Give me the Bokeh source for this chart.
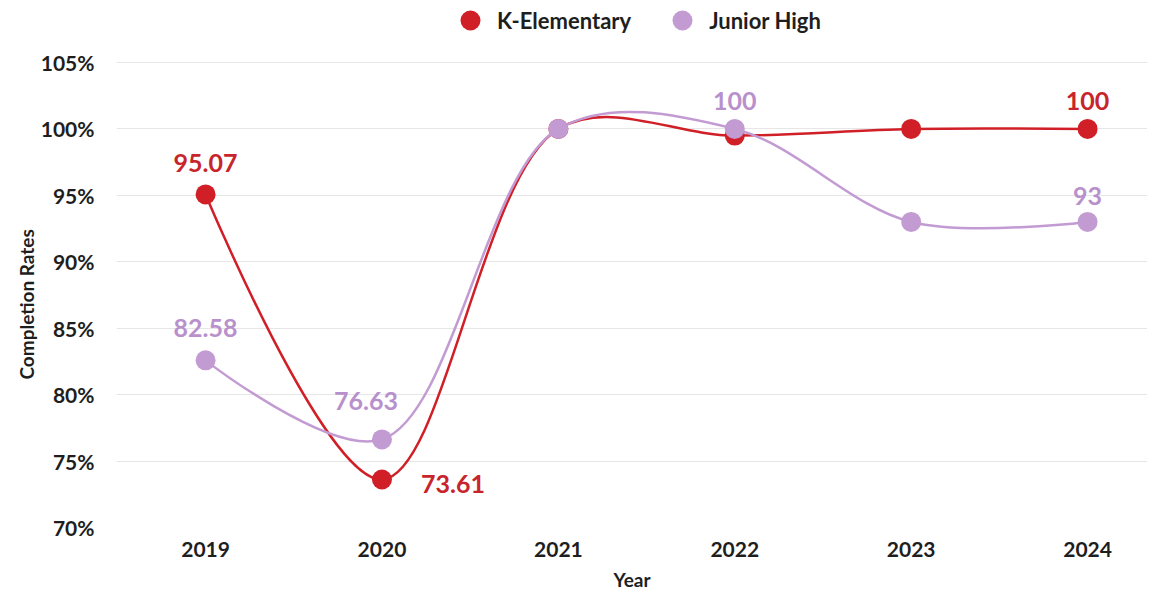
import math
from bokeh.plotting import figure
from bokeh.models import Range1d, FixedTicker, PrintfTickFormatter, Legend, LegendItem, Title
from bokeh.core.properties import value
from bokeh.embed import file_html
from bokeh.resources import INLINE

# ---------------- data ----------------
years = [2019, 2020, 2021, 2022, 2023, 2024]
k_elementary = [95.07, 73.61, 100, 99.5, 100, 100]
junior_high = [82.58, 76.63, 100, 100, 93, 93]
series_names = ["K-Elementary", "Junior High"]
y_ticks = [70, 75, 80, 85, 90, 95, 100, 105]
k_labeled_years = [2019, 2020, 2024]
j_labeled_years = [2019, 2020, 2022, 2024]

# ---------------- style ----------------
RED = "#D11F27"
RED_TXT = "#C8242B"
PURPLE = "#C39BD3"
PURPLE_TXT = "#B891CC"
GRID = "#E6E6E6"
TXT = "#1E1E1E"
FONT = "Lato"

W, H = 1147, 593
BL, BR, BT, BB = 116, 0, 0, 66
FW, FH = W - BL - BR, H - BT - BB
PX_PER_YEAR = 176.4
PX_PER_PCT = 465 / 35.0
X0 = 2018.495
X1 = X0 + FW / PX_PER_YEAR
Y0 = 70
Y1 = Y0 + FH / PX_PER_PCT   # frame reaches to the top so the legend row is inside it

p = figure(width=W, height=H, output_backend="svg", toolbar_location=None,
           x_range=Range1d(X0, X1), y_range=Range1d(Y0, Y1),
           min_border_left=BL, min_border_right=BR, min_border_top=BT, min_border_bottom=BB)
p.outline_line_color = None
p.background_fill_color = "white"
p.border_fill_color = "white"
p.xgrid.grid_line_color = None
p.ygrid.grid_line_color = GRID
p.ygrid.grid_line_width = 1

p.xaxis.ticker = FixedTicker(ticks=years)
p.yaxis.ticker = FixedTicker(ticks=y_ticks)
p.yaxis.formatter = PrintfTickFormatter(format="%d%%")
for ax in (p.xaxis[0], p.yaxis[0]):
    ax.axis_line_color = None
    ax.major_tick_line_color = None
    ax.minor_tick_line_color = None
    ax.major_label_text_font = FONT
    ax.major_label_text_font_style = "bold"
    ax.major_label_text_font_size = "21px"
    ax.major_label_text_color = TXT
    ax.axis_label_text_font = FONT
    ax.axis_label_text_font_style = "bold"
    ax.axis_label_text_font_size = "19px"
    ax.axis_label_text_color = TXT
p.xaxis.axis_label = "Year"
p.xaxis.major_label_standoff = 8
p.xaxis.axis_label_standoff = 8
p.yaxis.major_label_standoff = 16

ytitle = Title(text="Completion Rates", align="left", offset=148, standoff=0,
               text_font=FONT, text_font_style="bold", text_font_size="19px", text_color=TXT)
p.add_layout(ytitle, "left")


def catmull_rom(xs, ys, alpha=0.5):
    """Centripetal Catmull-Rom (as d3.curveCatmullRom) -> cubic bezier segments, in data units."""
    sx, sy = PX_PER_YEAR, PX_PER_PCT
    P = [(x * sx, y * sy) for x, y in zip(xs, ys)]
    n = len(P)
    seg = {k: [] for k in ("x0", "y0", "x1", "y1", "cx0", "cy0", "cx1", "cy1")}

    def dist(a, b):
        return math.hypot(a[0] - b[0], a[1] - b[1])

    for i in range(n - 1):
        p0 = P[i - 1] if i > 0 else P[i]
        p1, p2 = P[i], P[i + 1]
        p3 = P[i + 2] if i + 2 < n else P[i + 1]
        l01, l12, l23 = dist(p0, p1), dist(p1, p2), dist(p2, p3)
        l01a, l12a, l23a = l01 ** alpha, l12 ** alpha, l23 ** alpha
        l01_2a, l12_2a, l23_2a = l01 ** (2 * alpha), l12 ** (2 * alpha), l23 ** (2 * alpha)
        c1, c2 = p1, p2
        if l01a > 1e-12:
            a = 2 * l01_2a + 3 * l01a * l12a + l12_2a
            m = 3 * l01a * (l01a + l12a)
            c1 = tuple((p1[k] * a - p0[k] * l12_2a + p2[k] * l01_2a) / m for k in (0, 1))
        if l23a > 1e-12:
            b = 2 * l23_2a + 3 * l23a * l12a + l12_2a
            m = 3 * l23a * (l23a + l12a)
            c2 = tuple((p2[k] * b + p1[k] * l23_2a - p3[k] * l12_2a) / m for k in (0, 1))
        seg["x0"].append(p1[0] / sx); seg["y0"].append(p1[1] / sy)
        seg["x1"].append(p2[0] / sx); seg["y1"].append(p2[1] / sy)
        seg["cx0"].append(c1[0] / sx); seg["cy0"].append(c1[1] / sy)
        seg["cx1"].append(c2[0] / sx); seg["cy1"].append(c2[1] / sy)
    return seg


ks = catmull_rom(years, k_elementary)
js = catmull_rom(years, junior_high)

p.bezier(line_color=RED, line_width=2.5, **ks)
r_k = p.scatter(years, k_elementary, size=20, fill_color=RED, line_color=RED, line_width=0)
p.bezier(line_color=PURPLE, line_width=2.5, **js)
r_j = p.scatter(years, junior_high, size=20, fill_color=PURPLE, line_color=PURPLE, line_width=0)

# data labels
k_lab_x = [y for y in years if y in k_labeled_years]
k_lab_y = [v for y, v in zip(years, k_elementary) if y in k_labeled_years]
j_lab_x = [y for y in years if y in j_labeled_years]
j_lab_y = [v for y, v in zip(years, junior_high) if y in j_labeled_years]

k_offx = [0, 39, 0]
k_offy = [-31, 4, -28]
k_align = ["center", "left", "center"]
j_offx = [0, -16, 0, 0]
j_offy = [-32, -38, -28, -26]

p.text(x=k_lab_x, y=k_lab_y, text=[f"{v:g}" for v in k_lab_y], x_offset=k_offx, y_offset=k_offy,
       text_align=k_align, text_baseline="middle", text_font=value(FONT), text_font_style="bold",
       text_font_size="25px", text_color=RED_TXT)
p.text(x=j_lab_x, y=j_lab_y, text=[f"{v:g}" for v in j_lab_y], x_offset=j_offx, y_offset=j_offy,
       text_align="center", text_baseline="middle", text_font=value(FONT), text_font_style="bold",
       text_font_size="25px", text_color=PURPLE_TXT)

legend = Legend(items=[LegendItem(label=series_names[0], renderers=[r_k]),
                       LegendItem(label=series_names[1], renderers=[r_j])],
                orientation="horizontal", location=(329, FH - 45),
                glyph_width=50, glyph_height=50, label_height=50, label_standoff=2, spacing=26,
                padding=0, margin=0, border_line_color=None, background_fill_alpha=0,
                label_text_font=FONT, label_text_font_style="bold", label_text_font_size="22px",
                label_text_color=TXT)
p.add_layout(legend, "center")

open("out.html", "w").write(file_html(p, INLINE))
